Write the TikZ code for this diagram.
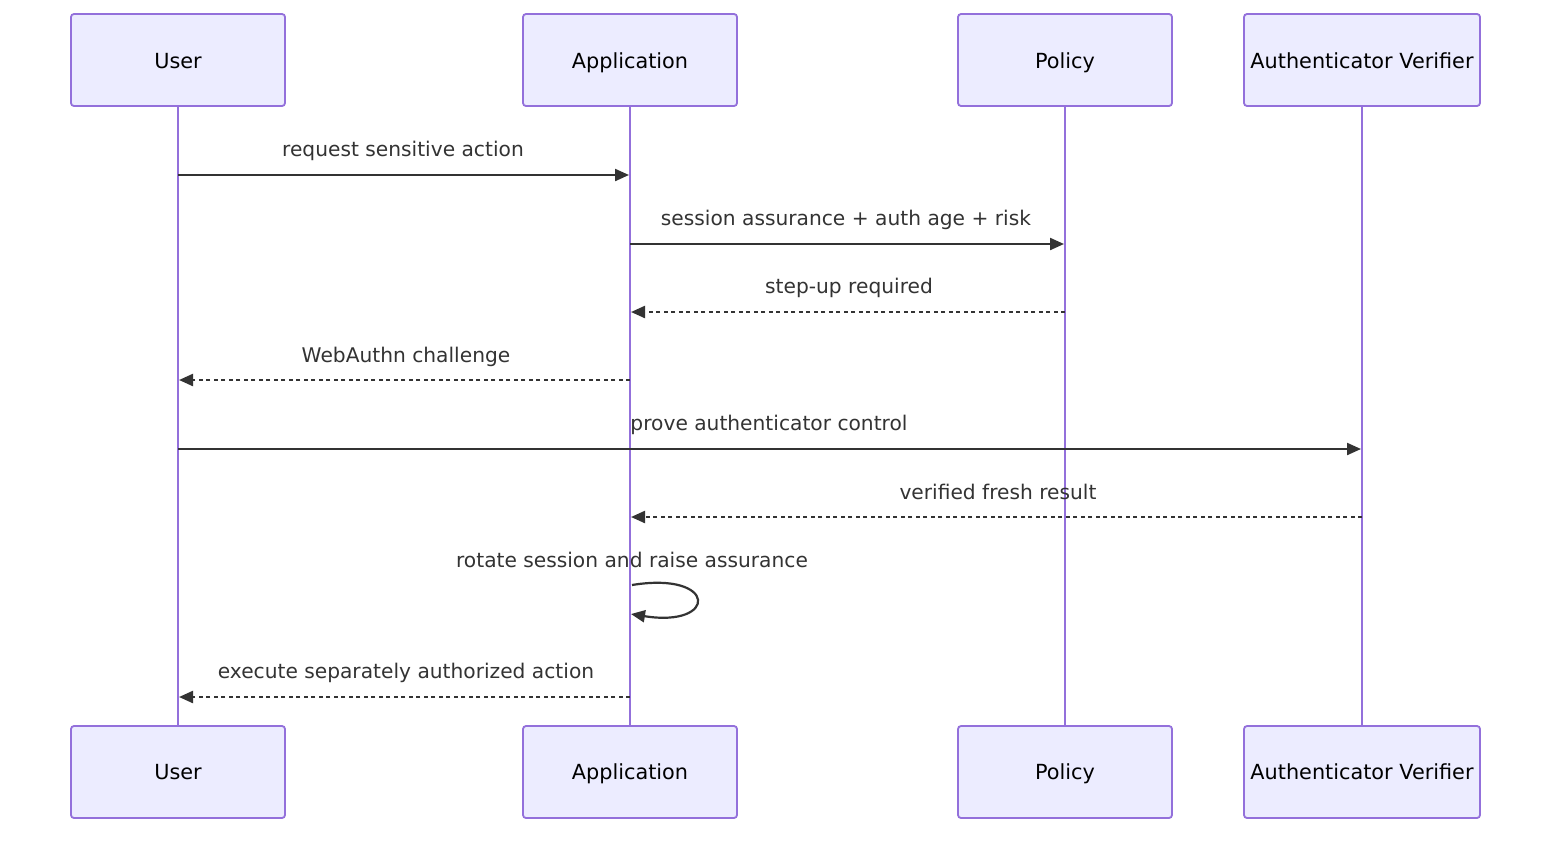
\documentclass[tikz,border=0pt]{standalone}
\usepackage{fontspec}
\setmainfont{DejaVu Sans}
\usetikzlibrary{arrows.meta}
\definecolor{actfill}{HTML}{ECECFF}
\definecolor{actline}{HTML}{9370DB}
\definecolor{msg}{HTML}{333333}
\begin{document}
\begin{tikzpicture}[x=1pt,y=-1pt,
  actor/.style={draw=actline,fill=actfill,line width=1.8pt,rounded corners=3pt,minimum height=92pt,inner sep=0pt,text=black,font=\fontsize{20.8pt}{24pt}\selectfont},
  actlbl/.style={text=black,inner sep=0pt,anchor=base,font=\fontsize{20.8pt}{24pt}\selectfont},
  life/.style={draw=actline,line width=2.6pt},
  msgline/.style={draw=msg,line width=2.2pt,-{Triangle[length=14pt,width=12pt]}},
  reply/.style={msgline,dash pattern=on 4pt off 3.5pt},
  lbl/.style={text=msg,inner sep=0pt,font=\fontsize{20.2pt}{24pt}\selectfont,anchor=base}]
\useasboundingbox (0,0) rectangle (1568,844);
\fill[white] (0,0) rectangle (1568,844);
% actors
\node[actor,minimum width=214pt] (uT) at (178,60) {};
\node[actor,minimum width=214pt] (aT) at (630,60) {};
\node[actor,minimum width=214pt] (pT) at (1065,60) {};
\node[actor,minimum width=236pt] (vT) at (1362,60) {};
\node[actor,minimum width=214pt] (uB) at (178,772) {};
\node[actor,minimum width=214pt] (aB) at (630,772) {};
\node[actor,minimum width=214pt] (pB) at (1065,772) {};
\node[actor,minimum width=236pt] (vB) at (1362,772) {};
\node[actlbl] (tu1) at (178,68) {User};
\node[actlbl] (ta1) at (630,68) {Application};
\node[actlbl] (tp1) at (1065,68) {Policy};
\node[actlbl] (tv1) at (1362,68) {Authenticator Verifier};
\node[actlbl] (tu2) at (178,779) {User};
\node[actlbl] (ta2) at (630,779) {Application};
\node[actlbl] (tp2) at (1065,779) {Policy};
\node[actlbl] (tv2) at (1362,779) {Authenticator Verifier};
% lifelines
\draw[life] (uT.south) -- (uB.north);
\draw[life] (aT.south) -- (aB.north);
\draw[life] (pT.south) -- (pB.north);
\draw[life] (vT.south) -- (vB.north);
% message points on lifelines
\coordinate (u1) at (178,175); \coordinate (a1) at (629,175);
\coordinate (a2) at (630,244); \coordinate (p2) at (1064,244);
\coordinate (p3) at (1065,312); \coordinate (a3) at (631,312);
\coordinate (a4) at (630,380); \coordinate (u4) at (179,380);
\coordinate (u5) at (178,449); \coordinate (v5) at (1361,449);
\coordinate (v6) at (1362,517); \coordinate (a6) at (631,517);
\coordinate (a7s) at (632,585); \coordinate (a7e) at (631,614);
\coordinate (a8) at (630,697); \coordinate (u8) at (179,697);
% messages
\draw[msgline] (u1) -- (a1);
\node[lbl] (l1) at (403,156) {request sensitive action};
\draw[msgline] (a2) -- (p2);
\node[lbl] (l2) at (846,225) {session assurance + auth age + risk};
\draw[reply] (p3) -- (a3);
\node[lbl] (l3) at (849,293) {step-up required};
\draw[reply] (a4) -- (u4);
\node[lbl] (l4) at (406,362) {WebAuthn challenge};
\draw[msgline] (u5) -- (v5);
\node[lbl] (l5) at (769,430) {prove authenticator control};
\draw[reply] (v6) -- (a6);
\node[lbl] (l6) at (998,499) {verified fresh result};
\draw[msgline] (a7s) .. controls (718,571) and (718,628) .. (a7e);
\node[lbl] (l7) at (632,567) {rotate session and raise assurance};
\draw[reply] (a8) -- (u8);
\node[lbl] (l8) at (406,678) {execute separately authorized action};
\end{tikzpicture}
\end{document}
